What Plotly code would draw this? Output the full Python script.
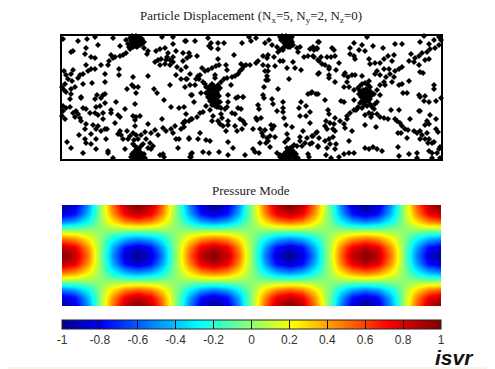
import plotly.graph_objects as go

particles_left = [
 (1,3),(16,5),(25,3),(33,1),(51,2),(64,4),(100,1),(111,1),(111,8),(123,5),(36,9),(24,12),(9,16),(11,15),(23,18),(29,21),(33,22),(58,10),
 (71,9),(68,13),(64,17),(61,19),(58,20),(53,21),(49,19),(51,22),(47,25),(46,29),(39,29),(33,33),(29,33),(26,35),(24,29),(21,38),(18,39),(16,42),(11,34),(9,38),(2,35),(4,39),(6,43),(10,45),(3,48),(0,51),(2,54),(4,56),(9,53),(13,51),(9,58),(21,48),(30,47),(43,38),(43,46),(57,33),(57,39),(71,41),(86,40),(70,49),(65,53),(72,51),(76,51),(74,57),(92,53),(95,57),(108,49),(129,59),(43,58),(41,59),(35,59),(19,61),
 (82,12),(86,15),(85,18),(94,15),(98,13),(103,12),(114,15),(121,17),(125,22),(121,25),(115,31),(119,34),(114,39),(119,43),(124,43),(123,51),(93,26),(96,24),(99,23),(104,24),(105,21),(108,24),(111,26),(98,29),(103,28),(108,29),(111,21),(106,17),
 (8,63),(19,62),(33,63),(39,62),(43,67),(54,66),(73,68),(102,64),(109,71),(117,72),(122,71),(124,78),(129,83),(123,85),(121,87),
 (1,70),(4,72),(8,71),(1,75),(0,80),(3,83),(11,77),(14,75),(16,78),(13,81),(18,82),(19,85),(21,72),(24,73),(28,77),(33,77),(34,71),(38,70),(41,77),(41,83),(36,79),(49,74),(49,77),(56,79),(58,81),(63,73),(53,87),(71,80),(74,81),(78,80),(73,84),(73,90),(100,83),(86,88),
 (24,88),(31,89),(36,90),(34,93),(39,95),(43,93),(45,93),(23,93),(29,98),(17,99),(23,103),(34,103),(44,103),(24,107),(29,108),(5,106),(9,112),(21,117),(34,113),(46,115),(46,117),(51,122),(63,113),
 (58,95),(56,98),(59,99),(61,103),(65,95),(68,100),(66,103),(71,97),(74,99),(76,103),(72,104),(83,96),(89,97),(93,94),(96,99),(84,103),(88,107),(91,110),(86,112),(89,113),(79,99),
 (101,92),(104,95),(109,93),(113,90),(111,97),(119,93),(122,91),(114,103),(117,103),(127,102),(116,112),(98,119),(101,118),(102,121),(129,118),(129,121),
]
cluster_top_left = [(68,2),(70,0),(72,1),(74,0),(76,1),(78,2),(80,3),(69,5),(71,4),(73,3),(75,4),(77,5),(79,6),(70,8),(72,7),(74,6),(76,8),(78,9),(73,10),(75,11),(71,11),(66,8),(67,11),(80,8),(82,6)]
cluster_bottom_left = [(71,108),(73,110),(75,112),(77,113),(79,110),(81,108),(74,114),(76,115),(78,116),(72,116),(70,118),(72,119),(74,118),(76,119),(78,119),(80,118),(82,118),(69,121),(71,122),(73,121),(75,122),(77,121),(79,122),(81,121),(83,122)]
particles_middle = [
 (124,5),(133,5),(146,2),(156,7),(162,7),(149,7),(147,10),(149,12),(156,13),(180,7),(187,1),(189,5),(194,2),(203,7),(207,4),(210,9),(215,11),(127,17),(128,20),(135,20),(172,19),
 (156,23),(157,29),(154,30),(150,32),(146,34),(143,35),(140,32),(138,39),(136,40),(134,43),(137,43),(128,38),(124,31),(125,43),(128,49),(133,49),(153,39),(153,42),(164,29),(165,34),(141,46),(143,48),(144,51),
 (159,46),(162,43),(165,42),(156,49),(152,51),(169,49),(170,41),(173,40),(176,38),(178,35),(180,33),(182,30),(179,28),(184,29),(188,29),(194,27),(196,25),(201,20),(205,22),(206,19),(201,29),(206,30),(203,35),(206,35),(205,40),(206,44),(204,44),(202,51),(213,30),(212,21),(218,25),(221,25),(225,32),(227,43),(216,53),(231,26),(233,32),(239,34),
 (216,16),(221,14),(225,9),(235,12),(238,11),(236,16),(248,13),(251,11),(256,6),(242,21),(246,20),(251,20),(256,24),(255,13),(256,38),(130,59),(139,57),(166,59),(176,61),(181,61),(201,59),(249,57),(246,58),(256,58),
 (132,66),(166,66),(174,62),(181,61),(202,62),(210,63),(211,68),(221,66),(221,72),(215,75),(221,76),(239,66),(237,72),(244,70),(248,76),(238,80),(244,80),(248,87),(222,82),(230,91),(224,89),
 (123,86),(127,85),(130,83),(135,81),(138,77),(141,76),(144,70),(148,74),(151,80),(150,85),
 (159,78),(160,82),(163,73),(165,71),(156,85),(158,88),(161,90),(166,85),(166,89),(173,90),(164,95),(175,95),(180,93),(170,77),(173,78),(176,72),(179,73),(178,83),(181,85),(183,88),(191,93),(194,82),(195,84),(199,82),(196,69),(197,73),
 (198,93),(200,97),(203,94),(201,100),(205,102),(208,100),(206,105),(198,107),(204,107),(209,89),(212,90),(210,93),(213,101),(208,111),(225,98),(226,103),(223,106),(238,101),(245,102),(251,100),(255,96),(241,95),(238,105),(243,107),(248,108),(250,107),(240,110),(235,110),(256,110),
 (127,103),(136,103),(138,97),(144,104),(148,105),(166,106),(171,112),(130,117),(128,121),(141,116),(147,117),(157,116),(166,119),(183,119),(191,113),(193,116),(197,117),(215,117),(218,119),(246,118),(247,121),
]
cluster_center_left = [(146,52),(148,50),(150,48),(152,50),(154,52),(156,54),(158,52),(147,55),(149,54),(151,53),(153,55),(155,57),(146,58),(148,58),(150,58),(152,59),(154,60),(157,60),(147,62),(149,62),(151,62),(153,63),(155,64),(148,65),(150,66),(152,67),(154,68),(156,67),(158,66),(150,69),(153,70),(155,71),(157,71),(159,72),(146,61),(144,57)]
cluster_top_mid = [(218,1),(220,0),(222,1),(224,0),(226,1),(228,2),(230,1),(219,4),(221,3),(223,4),(225,3),(227,5),(229,4),(222,7),(224,6),(226,8),(228,7),(230,6),(224,10),(226,11),(222,11),(220,13),(228,11),(218,14),(231,9)]
cluster_bottom_mid = [(220,120),(222,118),(224,116),(226,114),(228,112),(230,111),(232,109),(224,120),(226,118),(228,116),(230,114),(232,116),(234,118),(220,122),(222,122),(224,122),(226,121),(228,120),(230,119),(232,121),(234,122),(236,122),(228,122),(218,121),(225,112)]
particles_right = [
 (257,6),(255,12),(252,14),(270,12),(272,14),(252,21),(259,21),(265,21),(269,21),(273,20),(257,25),(260,28),(263,29),(267,31),(277,27),(257,37),(267,33),(274,34),(267,39),(273,46),(267,42),
 (292,7),(288,12),(288,18),(292,20),(293,23),(297,14),(303,15),(300,9),(311,10),(321,12),(333,8),(340,8),(305,1),(307,23),(308,28),(313,27),(318,27),(322,23),(326,20),(332,19),(330,25),(327,33),(322,33),(333,35),(337,33),(340,31),(315,35),(313,38),(318,39),(328,38),(324,41),(332,41),(322,46),(318,49),(323,49),(330,46),(337,49),(340,48),(347,45),
 (282,39),(283,37),(286,41),(290,39),(293,39),(282,51),(285,46),(287,51),(292,54),(300,40),(307,45),(315,54),(318,59),(312,58),(254,58),(250,56),(341,57),(345,57),(357,59),(363,60),(372,49),(372,53),(380,30),(380,43),
 (362,0),(358,6),(367,8),(372,4),(377,1),(379,4),(377,9),(373,12),(368,13),(365,16),(360,17),(357,20),(353,22),(349,18),(347,25),(352,26),(357,29),(363,24),(367,23),(358,36),(361,37),
 (263,64),(279,65),(282,66),(292,64),(313,68),(315,66),(358,61),(362,65),(367,66),(374,65),(379,62),
 (266,74),(267,78),(273,82),(264,85),(268,87),(272,88),(263,90),(265,93),(271,93),(273,95),(278,85),(282,88),(283,92),(290,95),(285,83),(285,80),(288,77),(292,74),(295,73),(303,79),(309,81),(314,91),(303,89),
 (307,77),(310,78),(315,78),(318,81),(322,82),(326,83),(329,74),(337,74),(333,83),(335,85),(338,87),(340,90),(343,93),(346,94),(348,83),(336,97),(339,97),(345,102),(352,95),(355,97),(358,95),(360,99),(365,97),(367,103),(363,103),(358,103),(374,93),(376,96),(372,106),(370,107),(358,75),(357,75),(368,79),(374,83),(363,89),(367,88),(365,85),(366,107),
 (250,100),(254,97),(257,102),(263,105),(267,103),(271,101),(265,112),(256,111),(268,108),(274,108),(273,113),(287,105),
 (264,119),(269,122),(277,121),(282,118),(287,117),(292,117),(303,112),(307,113),(311,111),(315,113),(320,115),(336,111),(337,120),(347,118),(355,117),(355,122),(367,115),(370,117),(375,117),(377,113),(378,111),(380,118),(378,122),(370,122),(380,115),
]
cluster_center_right = [(296,52),(298,50),(300,48),(303,47),(306,49),(308,51),(298,55),(301,54),(304,53),(307,55),(309,56),(297,58),(300,58),(303,57),(306,59),(309,60),(299,61),(302,62),(305,62),(308,63),(300,65),(303,66),(306,65),(298,67),(302,69),(305,70),(308,68),(310,71),(312,73),(296,71),(294,74),(300,72),(303,60),(306,57)]

all_particles = (particles_left + cluster_top_left + cluster_bottom_left + particles_middle
                 + cluster_center_left + cluster_top_mid + cluster_bottom_mid
                 + particles_right + cluster_center_right)
particle_x = [p[0] for p in all_particles]
particle_y = [p[1] for p in all_particles]

pressure = [
 [-1,-.87,-.5,0,.5,.87,1,.87,.5,0,-.5,-.87,-1,-.87,-.5,0,.5,.87,1,.87,.5,0,-.5,-.87,-1,-.87,-.5,0,.5,.87,1],
 [-.87,-.76,-.43,0,.43,.76,.87,.76,.43,0,-.43,-.76,-.87,-.76,-.43,0,.43,.76,.87,.76,.43,0,-.43,-.76,-.87,-.76,-.43,0,.43,.76,.87],
 [-.5,-.43,-.25,0,.25,.43,.5,.43,.25,0,-.25,-.43,-.5,-.43,-.25,0,.25,.43,.5,.43,.25,0,-.25,-.43,-.5,-.43,-.25,0,.25,.43,.5],
 [0,0,0,0,0,0,0,0,0,0,0,0,0,0,0,0,0,0,0,0,0,0,0,0,0,0,0,0,0,0,0],
 [.5,.43,.25,0,-.25,-.43,-.5,-.43,-.25,0,.25,.43,.5,.43,.25,0,-.25,-.43,-.5,-.43,-.25,0,.25,.43,.5,.43,.25,0,-.25,-.43,-.5],
 [.87,.76,.43,0,-.43,-.76,-.87,-.76,-.43,0,.43,.76,.87,.76,.43,0,-.43,-.76,-.87,-.76,-.43,0,.43,.76,.87,.76,.43,0,-.43,-.76,-.87],
 [1,.87,.5,0,-.5,-.87,-1,-.87,-.5,0,.5,.87,1,.87,.5,0,-.5,-.87,-1,-.87,-.5,0,.5,.87,1,.87,.5,0,-.5,-.87,-1],
 [.87,.76,.43,0,-.43,-.76,-.87,-.76,-.43,0,.43,.76,.87,.76,.43,0,-.43,-.76,-.87,-.76,-.43,0,.43,.76,.87,.76,.43,0,-.43,-.76,-.87],
 [.5,.43,.25,0,-.25,-.43,-.5,-.43,-.25,0,.25,.43,.5,.43,.25,0,-.25,-.43,-.5,-.43,-.25,0,.25,.43,.5,.43,.25,0,-.25,-.43,-.5],
 [0,0,0,0,0,0,0,0,0,0,0,0,0,0,0,0,0,0,0,0,0,0,0,0,0,0,0,0,0,0,0],
 [-.5,-.43,-.25,0,.25,.43,.5,.43,.25,0,-.25,-.43,-.5,-.43,-.25,0,.25,.43,.5,.43,.25,0,-.25,-.43,-.5,-.43,-.25,0,.25,.43,.5],
 [-.87,-.76,-.43,0,.43,.76,.87,.76,.43,0,-.43,-.76,-.87,-.76,-.43,0,.43,.76,.87,.76,.43,0,-.43,-.76,-.87,-.76,-.43,0,.43,.76,.87],
 [-1,-.87,-.5,0,.5,.87,1,.87,.5,0,-.5,-.87,-1,-.87,-.5,0,.5,.87,1,.87,.5,0,-.5,-.87,-1,-.87,-.5,0,.5,.87,1],
]
colorbar_ticks = [-1,-.8,-.6,-.4,-.2,0,.2,.4,.6,.8,1]
colorbar_labels = ["-1","-0.8","-0.6","-0.4","-0.2","0","0.2","0.4","0.6","0.8","1"]
jet = [[0,"rgb(0,0,143)"],[.11,"rgb(0,0,255)"],[.36,"rgb(0,255,255)"],[.61,"rgb(255,255,0)"],[.86,"rgb(255,0,0)"],[1,"rgb(128,0,0)"]]

# The page body adds an 8px margin, so the figure occupies 487x361 of the 495x369 window.
OFF = 8
W, H = 495 - OFF, 369 - OFF
def px(v): return (v - OFF) / W
def py(v): return (H - (v - OFF)) / H

fig = go.Figure()
fig.add_trace(go.Scatter(x=particle_x, y=particle_y, mode="markers", cliponaxis=False, showlegend=False,
                         marker=dict(symbol="diamond", size=4.6, color="black", line=dict(width=0)),
                         xaxis="x", yaxis="y"))
fig.add_trace(go.Heatmap(z=pressure, zmin=-1, zmax=1, zsmooth="best", colorscale=jet, xaxis="x2", yaxis="y2",
    colorbar=dict(orientation="h", x=px(62), xanchor="left", xref="paper", y=py(320), yanchor="top", yref="paper",
                  lenmode="pixels", len=379, thicknessmode="pixels", thickness=9, xpad=0, ypad=0,
                  outlinecolor="#222", outlinewidth=1, tickmode="array", tickvals=colorbar_ticks, ticktext=colorbar_labels,
                  ticks="inside", ticklen=9, tickwidth=1, tickcolor="#111",
                  tickfont=dict(family="Liberation Sans", size=12, color="#333"))))

frame = dict(showgrid=False, zeroline=False, showticklabels=False, ticks="", showline=True, mirror=True, linecolor="black", linewidth=2)
fig.update_layout(
    width=W, height=H, margin=dict(l=0, r=0, t=0, b=0, autoexpand=False),
    paper_bgcolor="white", plot_bgcolor="white",
    xaxis=dict(domain=[px(62), px(441)], range=[0, 379], **frame),
    yaxis=dict(domain=[py(159), py(36)], range=[123, 0], **frame),
    xaxis2=dict(domain=[px(62), px(441)], range=[0, 30], visible=False),
    yaxis2=dict(domain=[py(306), py(205)], range=[12, 0], visible=False),
    annotations=[
        dict(text="Particle Displacement (N<sub>x</sub>=5, N<sub>y</sub>=2, N<sub>z</sub>=0)", x=px(251), y=py(17), xref="paper", yref="paper",
             showarrow=False, xanchor="center", yanchor="middle", font=dict(family="Liberation Serif", size=13, color="#222")),
        dict(text="Pressure Mode", x=px(251), y=py(190), xref="paper", yref="paper",
             showarrow=False, xanchor="center", yanchor="middle", font=dict(family="Liberation Serif", size=13, color="#222")),
        dict(text="<b><i>isvr</i></b>", x=px(476), y=py(357), xref="paper", yref="paper",
             showarrow=False, xanchor="right", yanchor="middle", font=dict(family="Liberation Sans", size=21, color="#111")),
    ],
    shapes=[dict(type="line", xref="paper", yref="paper", x0=0, x1=1, y0=py(368), y1=py(368), line=dict(color="#f3ead2", width=1))],
)
fig.write_html("out.html")
